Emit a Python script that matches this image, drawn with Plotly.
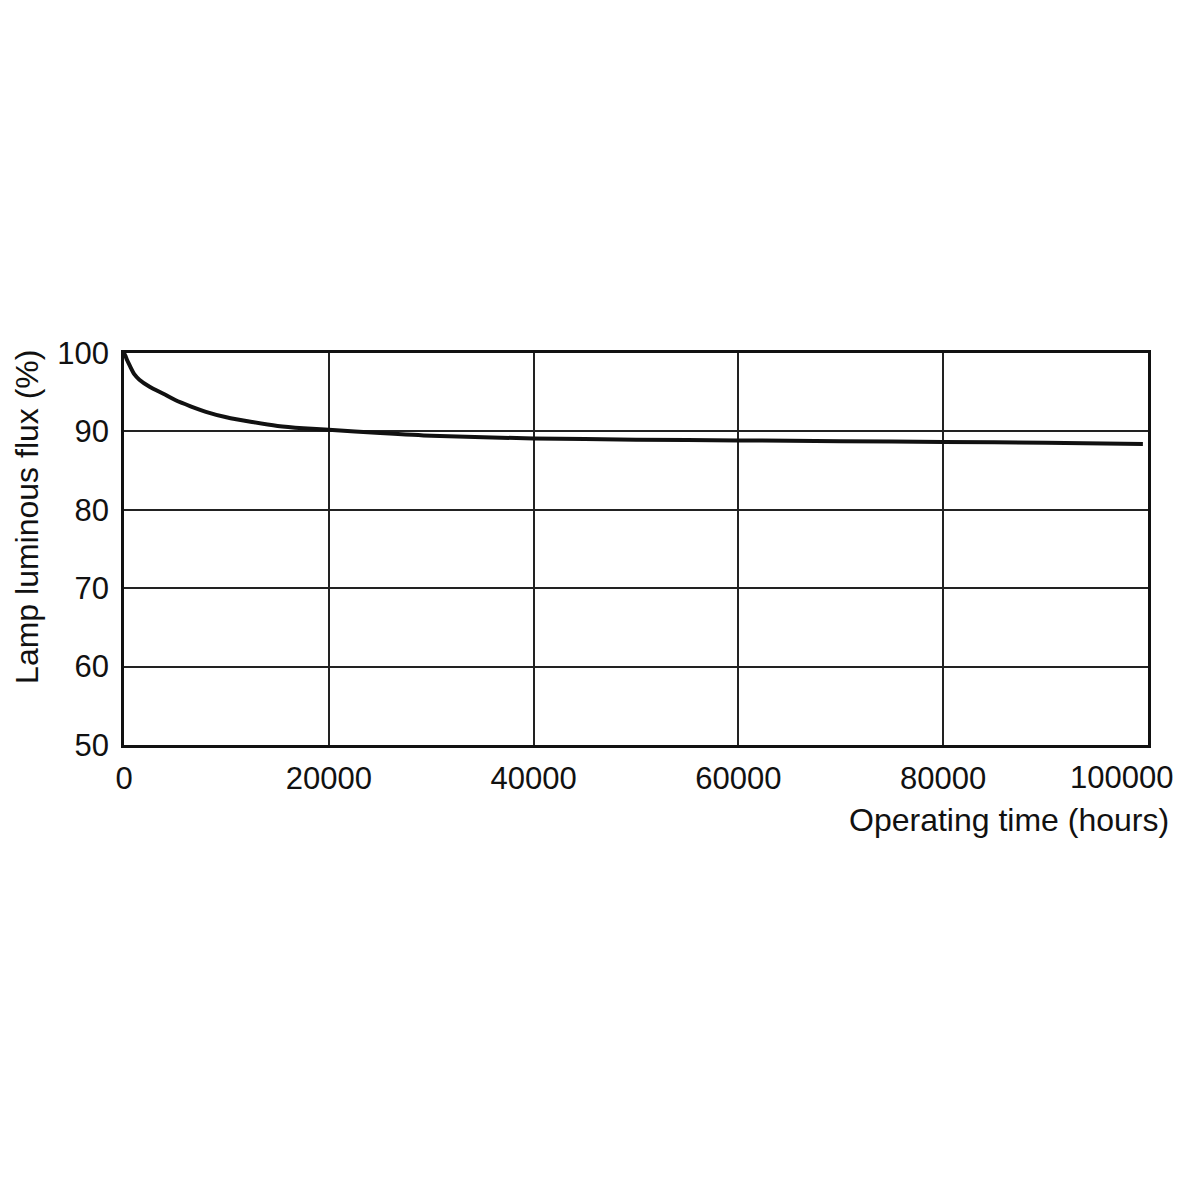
import plotly.graph_objects as go

hours = [0, 150, 300, 600, 1000, 1500, 2500, 4000, 5000, 6500, 8000, 10000, 12500, 15000,
         17500, 20000, 25000, 30000, 40000, 50000, 60000, 70000, 80000, 90000, 99500]
flux = [100, 99.6, 99.1, 98.3, 97.3, 96.6, 95.7, 94.7, 94.0, 93.2, 92.5, 91.8, 91.2, 90.7,
        90.4, 90.2, 89.8, 89.45, 89.1, 88.95, 88.85, 88.75, 88.65, 88.55, 88.4]

x_ticks = [0, 20000, 40000, 60000, 80000, 100000]
x_labels = ["0", "20000", "40000", "60000", "80000", ""]
last_x_tick = 100000
last_x_label = "100000"
y_ticks = [50, 60, 70, 80, 90, 100]

FONT = "Liberation Sans, Arial, sans-serif"

fig = go.Figure()
fig.add_trace(go.Scatter(x=hours, y=flux, mode="lines",
                         line=dict(color="#111111", width=4, shape="spline", smoothing=0.6),
                         hoverinfo="skip", showlegend=False))

fig.update_layout(
    width=1167, height=1167,
    paper_bgcolor="white", plot_bgcolor="white",
    margin=dict(l=116, r=27, t=345, b=430),
    font=dict(family=FONT, size=31, color="#111111"),
    showlegend=False,
    annotations=[
        dict(text=last_x_label, x=last_x_tick, xref="x", y=0, yref="paper",
             xanchor="center", yanchor="middle", yshift=-32, xshift=-27,
             showarrow=False, font=dict(family=FONT, size=31, color="#111111")),
        dict(text="Operating time (hours)", xref="paper", yref="paper",
             x=1.022, y=-0.14, xanchor="right", yanchor="top", showarrow=False,
             font=dict(family=FONT, size=32, color="#111111")),
        dict(text="Lamp luminous flux (%)", xref="paper", yref="paper",
             x=-0.0947, y=0.582, xanchor="center", yanchor="middle", textangle=-90,
             borderpad=0,
             showarrow=False, font=dict(family=FONT, size=32, color="#111111")),
    ],
)
fig.update_xaxes(range=[0, 100000], tickvals=x_ticks, ticktext=x_labels,
                 showgrid=True, gridcolor="#222222", gridwidth=1.5,
                 showline=True, linecolor="#111111", linewidth=2.5, mirror=True,
                 ticks="", zeroline=False, ticklabelstandoff=4, ticklabeloverflow="allow",
                 automargin=False)
fig.update_yaxes(range=[50, 100], tickvals=y_ticks, ticktext=[str(v) for v in y_ticks],
                 showgrid=True, gridcolor="#222222", gridwidth=1.5,
                 showline=True, linecolor="#111111", linewidth=2.5, mirror=True,
                 ticks="", zeroline=False, ticklabelstandoff=6, ticklabeloverflow="allow",
                 automargin=False)

fig.write_html("out.html")
